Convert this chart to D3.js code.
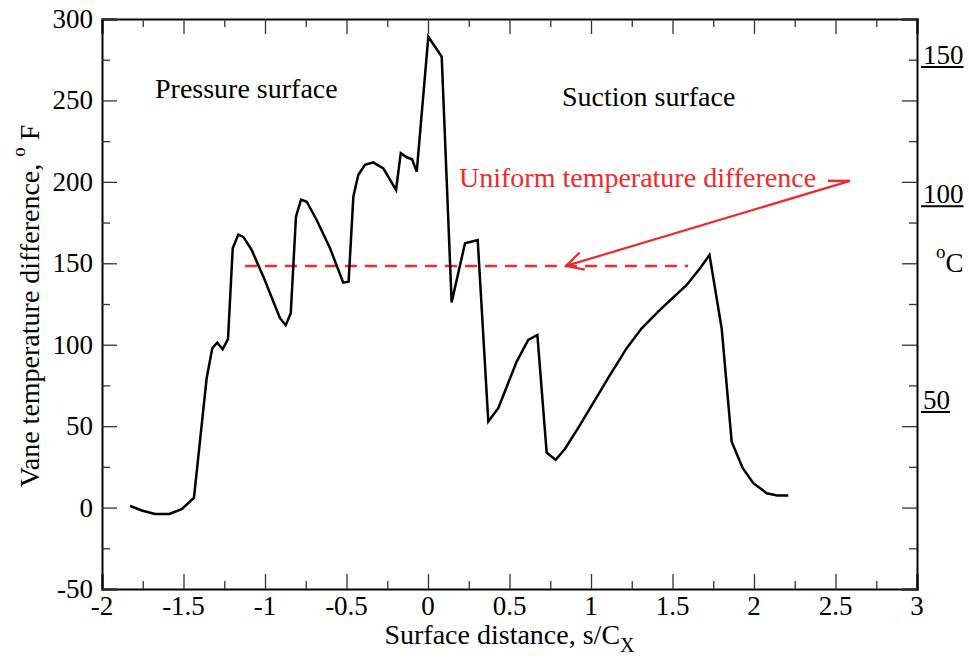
<!DOCTYPE html>
<html lang="en">
<head>
  <meta charset="utf-8" />
  <script src="https://d3js.org/d3.v7.min.js"></script>
  <title>Vane temperature difference</title>
  <style>
    body { margin: 0; background: #fff; }
    svg text { font-family: "Liberation Serif", "Times New Roman", serif; }
  </style>
</head>
<body>
<svg width="969" height="658"></svg>
<script>

// surface distance s/Cx
var sPos = [-1.828, -1.756, -1.675, -1.587, -1.511, -1.436, -1.358, -1.323, -1.293, -1.260,
  -1.227, -1.198, -1.164, -1.133, -1.082, -1.010, -0.949, -0.908, -0.873, -0.842,
  -0.810, -0.779, -0.744, -0.683, -0.601, -0.520, -0.487, -0.458, -0.428, -0.387,
  -0.336, -0.274, -0.196, -0.167, -0.131, -0.098, -0.069, 0.002, 0.084, 0.145,
  0.227, 0.305, 0.370, 0.431, 0.544, 0.615, 0.671, 0.728, 0.783, 0.840,
  0.933, 1.025, 1.117, 1.219, 1.311, 1.423, 1.587, 1.669, 1.727, 1.802,
  1.863, 1.931, 1.996, 2.078, 2.143, 2.210];

// vane temperature difference, deg F
var dTemp = [1.0, -1.8, -3.9, -3.9, -1.0, 6.0, 79.4, 97.9, 101.3, 97.2,
  103.4, 159.2, 167.6, 166.2, 158.2, 141.8, 126.5, 116.3, 112.0, 119.3,
  178.6, 189.1, 187.8, 176.6, 159.2, 138.1, 138.7, 190.9, 204.2, 210.4,
  212.0, 208.3, 195.0, 217.6, 215.1, 213.9, 206.3, 289.1, 276.9, 126.0,
  162.3, 164.3, 52.8, 61.0, 89.6, 102.9, 106.0, 33.8, 29.3, 36.0,
  50.8, 66.1, 81.5, 97.9, 110.1, 121.4, 136.7, 147.0, 155.1, 109.7,
  40.5, 24.2, 15.0, 8.8, 7.4, 7.4];

// uniform temperature difference line
var uniformValue = 148.4;
var uniformRange = [-1.123, 1.595];

// arrow from the label to the dashed line
var arrowFrom = [2.589, 200.6];
var arrowTo = [0.847, 148.4];
var labelDashStart = 2.454;

var xTicks = [-2, -1.5, -1, -0.5, 0, 0.5, 1, 1.5, 2, 2.5, 3];
var yTicks = [-50, 0, 50, 100, 150, 200, 250, 300];

// celsius marks on the right (placed at the deg F height they sit at)
var celsiusLabels = ["150", "100", "50"];
var celsiusAt = [270.5, 185, 58.7];

var svg = d3.select("svg");
var margin = { left: 102, right: 52, top: 19, bottom: 69 };
var width = 969, height = 658;

var x = d3.scaleLinear().domain([-2, 3]).range([margin.left, width - margin.right]);
var y = d3.scaleLinear().domain([-50, 300]).range([height - margin.bottom, margin.top]);

svg.append("rect").attr("width", width).attr("height", height).attr("fill", "#fff");

var fontSize = 27;
var red = "#ee2a2a";

// axes, all ticks pointing inwards
var xMinor = d3.range(-1.75, 3, 0.5);
var yMinor = d3.range(-25, 300, 50);

function axis(gen, pos, major, minor) {
  var g = svg.append("g").attr("transform", pos);
  g.call(gen.tickValues(major).tickSize(-15).tickFormat(""));
  var g2 = svg.append("g").attr("transform", pos);
  g2.call(gen.tickValues(minor).tickSize(-8).tickFormat(""));
  g2.select(".domain").remove();
  [g, g2].forEach(function(s) {
    s.selectAll(".tick line").attr("stroke", "#333").attr("stroke-width", 1.3);
  });
  g.select(".domain").attr("stroke", "#000").attr("stroke-width", 2);
}

axis(d3.axisBottom(x), "translate(0," + y(-50) + ")", xTicks, xMinor);
axis(d3.axisTop(x), "translate(0," + y(300) + ")", xTicks, xMinor);
axis(d3.axisLeft(y), "translate(" + x(-2) + ",0)", yTicks, yMinor);
axis(d3.axisRight(y), "translate(" + x(3) + ",0)", yTicks, yMinor);

// tick labels
svg.append("g").selectAll("text")
  .data(xTicks).enter().append("text")
  .attr("x", function(d) { return x(d); })
  .attr("y", y(-50) + 26)
  .attr("text-anchor", "middle")
  .attr("font-size", fontSize)
  .text(function(d) { return d; });

svg.append("g").selectAll("text")
  .data(yTicks).enter().append("text")
  .attr("x", x(-2) - 9)
  .attr("y", function(d) { return y(d) + 9; })
  .attr("text-anchor", "end")
  .attr("font-size", fontSize)
  .text(function(d) { return d; });

// axis titles
var xt = svg.append("text")
  .attr("x", (x(-2) + x(3)) / 2)
  .attr("y", 644)
  .attr("text-anchor", "middle")
  .attr("font-size", 28);
xt.append("tspan").text("Surface distance, s/C");
xt.append("tspan").attr("font-size", 20).attr("dy", 8).text("X");

var yt = svg.append("text")
  .attr("transform", "translate(39,306) rotate(-90)")
  .attr("text-anchor", "middle")
  .attr("font-size", 28);
yt.append("tspan").text("Vane temperature difference, ");
yt.append("tspan").attr("font-size", 19).attr("dy", -14).text("o");
yt.append("tspan").attr("dy", 14).text(" F");

// celsius marks
var cg = svg.append("g").selectAll("g")
  .data(celsiusLabels).enter().append("g");
cg.append("text")
  .attr("x", 923)
  .attr("y", function(d, i) { return y(celsiusAt[i]) - 3; })
  .attr("font-size", fontSize)
  .text(function(d) { return d; });
cg.append("line")
  .attr("x1", 921)
  .attr("x2", function() { return 923 + this.parentNode.querySelector("text").getComputedTextLength(); })
  .attr("y1", function(d, i) { return y(celsiusAt[i]); })
  .attr("y2", function(d, i) { return y(celsiusAt[i]); })
  .attr("stroke", "#000")
  .attr("stroke-width", 2);

var ct = svg.append("text")
  .attr("x", 936)
  .attr("y", 272)
  .attr("font-size", fontSize);
ct.append("tspan").attr("font-size", 19).attr("dy", -14).text("o");
ct.append("tspan").attr("dy", 14).text("C");

// annotations
svg.append("text").attr("x", 155).attr("y", 98).attr("font-size", 28).text("Pressure surface");
svg.append("text").attr("x", 562).attr("y", 106).attr("font-size", 28).text("Suction surface");
svg.append("text").attr("x", 459).attr("y", 187).attr("font-size", 28)
  .attr("fill", red).text("Uniform temperature difference");

// uniform dashed line
svg.append("line")
  .attr("x1", x(uniformRange[0])).attr("x2", x(uniformRange[1]))
  .attr("y1", y(uniformValue)).attr("y2", y(uniformValue))
  .attr("stroke", red)
  .attr("stroke-width", 2.5)
  .attr("stroke-dasharray", "12,8");

// arrow
var ax0 = x(arrowFrom[0]), ay0 = y(arrowFrom[1]);
var ax1 = x(arrowTo[0]), ay1 = y(arrowTo[1]);
svg.append("line")
  .attr("x1", x(labelDashStart)).attr("x2", ax0)
  .attr("y1", ay0).attr("y2", ay0)
  .attr("stroke", red).attr("stroke-width", 2.5);
svg.append("line")
  .attr("x1", ax0).attr("y1", ay0)
  .attr("x2", ax1).attr("y2", ay1)
  .attr("stroke", red).attr("stroke-width", 2.2);
var ang = Math.atan2(ay0 - ay1, ax0 - ax1);
var headLen = 19, headAng = 28 * Math.PI / 180;
svg.append("path")
  .attr("d", "M" + (ax1 + headLen * Math.cos(ang - headAng)) + "," + (ay1 + headLen * Math.sin(ang - headAng)) +
    "L" + ax1 + "," + ay1 +
    "L" + (ax1 + headLen * Math.cos(ang + headAng)) + "," + (ay1 + headLen * Math.sin(ang + headAng)))
  .attr("fill", "none")
  .attr("stroke", red)
  .attr("stroke-width", 2.2);

// the temperature curve
var line = d3.line()
  .x(function(d, i) { return x(sPos[i]); })
  .y(function(d) { return y(d); });

svg.append("path")
  .datum(dTemp)
  .attr("d", line)
  .attr("fill", "none")
  .attr("stroke", "#000")
  .attr("stroke-width", 2.5)
  .attr("stroke-linejoin", "miter");

</script>
</body>
</html>
